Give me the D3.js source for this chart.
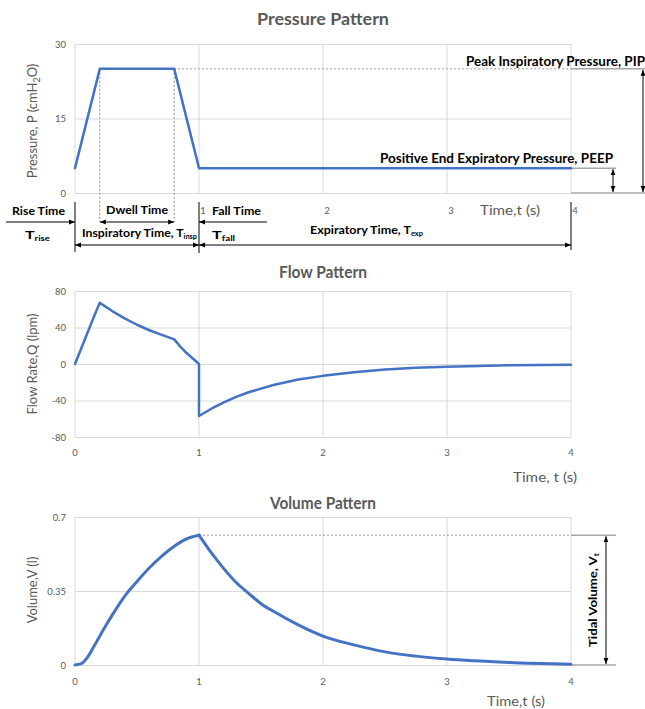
<!DOCTYPE html>
<html><head><meta charset="utf-8">
<script src="https://cdn.jsdelivr.net/npm/d3@7"></script>
<style>
body{margin:0;background:#fff;}
svg{display:block;font-family:Lato,"Open Sans",sans-serif;}
</style></head>
<body><svg id="c" width="645" height="709"></svg>
<script>
// ---------- data ----------
const timeTicks = [0, 1, 2, 3, 4];
const pressureTicks = [0, 15, 30];
const flowTicks = [-80, -40, 0, 40, 80];
const volumeTicks = [0, 0.35, 0.7];
const volumeTickLabels = ["0", "0.35", "0.7"];

const pressureT = [0, 0.2, 0.8, 1.0, 4.0];
const pressureP = [5, 25, 25, 5, 5];

const flowT = [0, 0.05, 0.1, 0.15, 0.2, 0.3, 0.4, 0.5, 0.6, 0.7, 0.8, 0.85, 0.9, 0.95, 1.0, 1.0, 1.1, 1.2, 1.3, 1.4, 1.5, 1.6, 1.8, 2.0, 2.25, 2.5, 2.75, 3.0, 3.5, 4.0];
const flowQ = [0, 17, 34, 51, 67, 58, 50, 43, 37, 32, 27, 19, 12, 6, 0, -57, -49, -42, -36, -31, -27, -23, -17, -13, -9, -6, -4, -3, -1.5, -0.8];

const volRiseT = [0, 0.05, 0.1, 0.15, 0.2, 0.25, 0.3, 0.4, 0.5, 0.6, 0.7, 0.8, 0.9, 1.0];
const volRiseV = [0, 0.006, 0.036, 0.085, 0.137, 0.188, 0.236, 0.325, 0.395, 0.46, 0.515, 0.562, 0.597, 0.614];
const volFallT = [1.0, 1.1, 1.2, 1.3, 1.4, 1.5, 1.6, 1.8, 2.0, 2.25, 2.5, 2.75, 3.0, 3.5, 4.0];
const volFallV = [0.614, 0.53, 0.456, 0.39, 0.339, 0.29, 0.254, 0.19, 0.137, 0.095, 0.062, 0.042, 0.028, 0.012, 0.004];

const PIP = 25, PEEP = 5, riseEnd = 0.2, dwellEnd = 0.8, inspEnd = 1.0, tidal = 0.614;

// ---------- drawing ----------
const svg = d3.select("#c");
const BLUE = "#4472C4", GRID = "#d9d9d9", TXT = "#595959";
const x = d3.scaleLinear().domain([0, 4]).range([75, 571]);
const yP = d3.scaleLinear().domain([0, 30]).range([193, 44]);
const yQ = d3.scaleLinear().domain([-80, 80]).range([437, 291]);
const yV = d3.scaleLinear().domain([0, 0.7]).range([665, 517]);

const defs = svg.append("defs");
defs.append("marker").attr("id", "ah").attr("viewBox", "0 0 10 10")
  .attr("refX", 10).attr("refY", 5).attr("markerWidth", 6).attr("markerHeight", 6)
  .attr("orient", "auto-start-reverse").attr("markerUnits", "userSpaceOnUse")
  .append("path").attr("d", "M0,1 L10,5 L0,9 Z").attr("fill", "#000");

function panel(y, ticks, labels) {
  const g = svg.append("g");
  g.append("g").attr("transform", `translate(${x(0)},0)`)
    .call(d3.axisLeft(y).tickValues(ticks).tickSize(-(x(4) - x(0))).tickPadding(9)
      .tickFormat((d, i) => labels ? labels[i] : d))
    .call(a => a.select(".domain").remove())
    .call(a => a.selectAll("line").attr("stroke", GRID))
    .call(a => a.selectAll("text").attr("fill", TXT).attr("font-size", 9.5).attr("font-family", "Lato,sans-serif"));
  g.append("g").selectAll("line").data(timeTicks).join("line")
    .attr("x1", d => x(d)).attr("x2", d => x(d))
    .attr("y1", y.range()[1]).attr("y2", y.range()[0])
    .attr("stroke", GRID);
  return g;
}
function xLabels(yPos, dx) {
  svg.append("g").selectAll("text").data(timeTicks).join("text")
    .attr("x", d => x(d) + dx).attr("y", yPos).attr("text-anchor", "middle")
    .attr("font-size", 9.5).attr("fill", TXT).text(d => d);
}
function fit(t, len) { return t.attr("textLength", len).attr("lengthAdjust", "spacingAndGlyphs"); }
function title(t, yPos, len) {
  fit(svg.append("text").attr("x", 323).attr("y", yPos).attr("text-anchor", "middle")
    .attr("font-size", 17).attr("font-weight", "bold").attr("fill", TXT).text(t), len);
}
function ytitle(cy, build) {
  const t = svg.append("text").attr("transform", `translate(37,${cy}) rotate(-90)`)
    .attr("text-anchor", "middle").attr("font-size", 13).attr("fill", TXT);
  build(t);
}
function axisTitle(t, xPos, yPos, len) {
  fit(svg.append("text").attr("x", xPos).attr("y", yPos).attr("font-size", 14)
    .attr("fill", TXT).text(t), len);
}
function seg(x1, y1, x2, y2, opts = {}) {
  const l = svg.append("line").attr("x1", x1).attr("y1", y1).attr("x2", x2).attr("y2", y2)
    .attr("stroke", opts.color || "#000").attr("stroke-width", opts.w || 1);
  if (opts.dash) l.attr("stroke-dasharray", opts.dash);
  if (opts.start) l.attr("marker-start", "url(#ah)");
  if (opts.end) l.attr("marker-end", "url(#ah)");
  return l;
}
function bold(t, xPos, yPos, size, len, anchor) {
  return fit(svg.append("text").attr("x", xPos).attr("y", yPos).attr("font-size", size)
    .attr("font-weight", "bold").attr("fill", "#000").attr("text-anchor", anchor || "start").text(t), len);
}
function boldSub(main, sub, xPos, yPos, size, len) {
  const t = svg.append("text").attr("x", xPos).attr("y", yPos).attr("font-size", size)
    .attr("font-weight", "bold").attr("fill", "#000");
  t.append("tspan").text(main);
  t.append("tspan").attr("font-size", size * 0.6).attr("dy", 2).text(sub);
  return fit(t, len);
}
function line(tArr, vArr, y, w, curve) {
  svg.append("path").datum(tArr.map((t, i) => [t, vArr[i]]))
    .attr("d", d3.line().curve(curve || d3.curveLinear).x(d => x(d[0])).y(d => y(d[1])))
    .attr("fill", "none").attr("stroke", BLUE).attr("stroke-width", w)
    .attr("stroke-linejoin", "round").attr("stroke-linecap", "round");
}

// ===== Pressure panel =====
title("Pressure Pattern", 25, 132);
panel(yP, pressureTicks);
ytitle(121, t => {
  t.append("tspan").text("Pressure, P (cmH");
  t.append("tspan").attr("font-size", 9).attr("dy", 3).text("2");
  t.append("tspan").attr("dy", -3).text("O)");
});
seg(x(riseEnd), yP(PIP), x(riseEnd), 222, {color: "#888", dash: "2,2"});
seg(x(dwellEnd), yP(PIP), x(dwellEnd), 222, {color: "#888", dash: "2,2"});
seg(x(dwellEnd), yP(PIP), x(4), yP(PIP), {color: "#999", dash: "2,2"});
seg(x(4), yP(PIP), 645, yP(PIP), {color: "#a6a6a6", w: 1.5});
seg(x(4), yP(PEEP), 616, yP(PEEP), {color: "#a6a6a6", w: 1.5});
seg(x(4), yP(0), 645, yP(0), {color: "#a6a6a6", w: 1.5});
seg(643, yP(PIP) + 1, 643, yP(0) - 1, {start: true, end: true});
seg(613, yP(PEEP) + 1, 613, yP(0) - 1, {start: true, end: true});
line(pressureT, pressureP, yP, 2.5);
bold("Peak Inspiratory Pressure, PIP", 645, 66, 12.5, 179, "end");
bold("Positive End Expiratory Pressure, PEEP", 613, 163, 12.5, 233, "end");
svg.append("g").selectAll("text").data(timeTicks.slice(1)).join("text")
  .attr("x", d => x(d) + 4).attr("y", 214).attr("text-anchor", "middle")
  .attr("font-size", 9.5).attr("fill", TXT).text(d => d);
axisTitle("Time,t (s)", 480, 215, 60);

// annotations
seg(x(0), 202, x(0), 252);
seg(x(1), 202, x(1), 253);
seg(x(4), 202, x(4), 250);
bold("Rise Time", 12, 215, 11.5, 53);
seg(6, 222, x(0), 222, {end: true});
boldSub("T", "rise", 25, 239, 12, 25);
bold("Dwell Time", 106, 214, 11.5, 62);
seg(x(riseEnd), 222, x(dwellEnd), 222, {start: true, end: true});
bold("Fall Time", 212, 215, 11.5, 49);
seg(x(1), 222, 267, 222, {start: true});
boldSub("Inspiratory Time, T", "insp", 82, 237, 11.5, 115);
seg(x(0), 245, x(1), 245, {start: true, end: true});
boldSub("T", "fall", 212, 239, 12, 23);
boldSub("Expiratory Time, T", "exp", 310, 234, 11.5, 113);
seg(x(1), 245, x(4), 245, {start: true, end: true});

// ===== Flow panel =====
title("Flow Pattern", 278, 88);
panel(yQ, flowTicks);
ytitle(364, t => t.text("Flow Rate,Q (lpm)"));
line(flowT, flowQ, yQ, 2.5);
xLabels(456, 0);
axisTitle("Time, t (s)", 513, 482, 64);

// ===== Volume panel =====
title("Volume Pattern", 509, 106);
panel(yV, volumeTicks, volumeTickLabels);
ytitle(590, t => t.text("Volume,V (l)"));
seg(x(inspEnd), yV(tidal), x(4), yV(tidal), {color: "#999", dash: "2,2"});
seg(x(4), yV(tidal), 616, yV(tidal), {color: "#a6a6a6", w: 1.5});
seg(x(4), yV(0), 616, yV(0), {color: "#a6a6a6", w: 1.5});
seg(606, yV(tidal) + 1, 606, yV(0) - 1, {start: true, end: true});
const tv = svg.append("text").attr("transform", `translate(597,600) rotate(-90)`)
  .attr("text-anchor", "middle").attr("font-size", 11.5).attr("font-weight", "bold").attr("fill", "#000");
tv.append("tspan").text("Tidal Volume, V");
tv.append("tspan").attr("font-size", 7.5).attr("dy", 2).text("t");
fit(tv, 94);
line(volRiseT, volRiseV, yV, 3, d3.curveMonotoneX);
line(volFallT, volFallV, yV, 3, d3.curveMonotoneX);
xLabels(685, 0);
axisTitle("Time,t (s)", 487, 706, 58);
</script></body></html>
